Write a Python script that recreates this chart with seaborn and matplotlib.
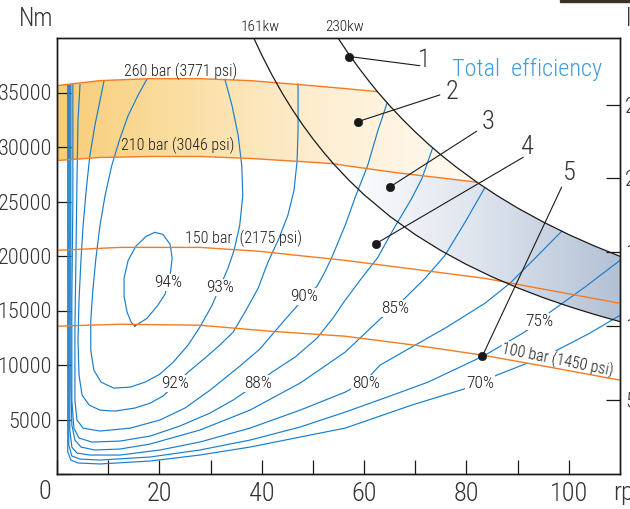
import numpy as np
import seaborn as sns
import matplotlib.pyplot as plt
from matplotlib.colors import LinearSegmentedColormap
from matplotlib.patches import Polygon, Rectangle

sns.set_theme(style='white')
plt.rcParams['font.family'] = ['Roboto Condensed', 'Archivo Narrow', 'PT Sans Narrow',
                               'Liberation Sans Narrow', 'DejaVu Sans']
plt.rcParams['font.weight'] = 'light'

INK = '#1a1a1a'
ORANGE = '#f47b20'
BLUE = '#197dcd'

# pressure lines, torque (Nm) against speed (rpm)
bar260_rpm = [0, 8.4, 18.2, 27.9, 37.7, 47.5, 56.3, 62.6]
bar260_nm = [35630, 36090, 36270, 36270, 36090, 35720, 35360, 35080]
bar210_rpm = [0, 8.4, 18.2, 27.9, 37.7, 47.5, 54.0, 56.3, 66.0, 82.0]
bar210_nm = [28760, 29040, 29130, 29130, 28950, 28670, 28470, 28300, 27660, 26780]
bar150_rpm = [0, 12.3, 27.9, 39.6, 46.9, 56.3, 69.9, 83.6, 96.3, 110.0]
bar150_nm = [20520, 20790, 20790, 20430, 20060, 19600, 18780, 17950, 16850, 15660]
bar100_rpm = [0, 12.3, 27.9, 41.6, 56.3, 69.9, 83.2, 96.3, 110.0]
bar100_nm = [13560, 13740, 13650, 13100, 12640, 11820, 10900, 9800, 8610]

# constant power curves
kw161_rpm = [38.44, 40, 42, 44, 46, 48, 50, 52, 54, 57, 60, 65, 70, 75, 80, 85, 90, 95, 100, 105, 110]
kw161_nm = [40000, 38440, 36610, 34940, 33420, 32030, 30750, 29570, 28470, 26970, 25620,
            23650, 21960, 20500, 19220, 18090, 17080, 16180, 15370, 14640, 13980]
kw230_rpm = [54.9, 57, 59, 61, 62.6, 65, 67.5, 70, 72.5, 75, 78, 82, 86, 90, 95, 100, 105, 110]
kw230_nm = [40000, 38530, 37230, 36010, 35080, 33790, 32540, 31380, 30290, 29280, 28160,
            26780, 25540, 24400, 23120, 21960, 20920, 19970]

# total efficiency contours
eff94_rpm = [15.2, 17.6, 19.7, 21.1, 22.1, 22.5, 22.1, 20.7, 19.1, 17.4, 15.4, 13.9, 13.1, 13.1, 13.7, 14.5, 15.2]
eff94_nm = [13560, 14290, 15480, 16490, 18230, 19790, 21070, 21980, 22170, 21800, 20890, 19600,
            17950, 16300, 14840, 13920, 13560]
eff93_rpm = [17.6, 15.8, 13.9, 12.3, 10.7, 9.4, 8.4, 7.6, 7.0, 6.6, 6.6, 7.2, 8.6, 11.1, 14.3, 17.2,
             20.1, 22.7, 25.6, 27.9, 30.3, 31.8, 33.4, 34.6, 35.7, 36.3, 36.1, 35.4, 34.2, 32.8]
eff93_nm = [36250, 34720, 32880, 30780, 28300, 25560, 22810, 19790, 16850, 14110, 11360, 9530, 8430,
            7880, 7970, 8430, 9160, 10260, 11820, 13470, 15480, 17130, 18870, 20520, 22810, 25560,
            28300, 31050, 33800, 36220]
eff92_rpm = [9.2, 8.4, 7.4, 6.4, 5.7, 5.1, 4.7, 4.3, 4.1, 4.3, 4.9, 6.3, 8.4, 11.3, 15.2, 18.2, 20.7,
             23.0, 25.6, 28.9, 31.8, 34.4, 36.7, 39.3, 41.2, 43.2, 45.1, 46.3, 46.9, 47.1, 47.1, 47.1]
eff92_nm = [36090, 34260, 31970, 29130, 26010, 22810, 19790, 15940, 12270, 9070, 7240, 6320, 5860,
            5770, 6050, 6500, 7150, 8150, 9340, 10630, 11820, 13010, 14840, 17040, 19420, 21430,
            23720, 26010, 28670, 31510, 34260, 35800]
eff90_rpm = [4.5, 4.1, 3.9, 3.7, 3.5, 3.5, 3.9, 5.1, 8.4, 14.3, 20.1, 25.0, 29.9, 35.7, 39.6, 44.1,
             48.4, 50.8, 52.3, 53.7, 56.3, 58.4, 60.7, 62.7, 64.5]
eff90_nm = [35750, 32430, 26930, 19880, 13190, 6780, 4950, 4210, 3940, 4210, 4950, 6050, 7690, 9890,
            11450, 13920, 16210, 17220, 18500, 19880, 22810, 25560, 28300, 31510, 34050]
eff88_rpm = [3.1, 3.1, 2.9, 2.9, 3.3, 4.3, 6.8, 12.3, 18.2, 24.0, 29.9, 34.4, 39.3, 42.0, 46.5, 50.8,
             53.9, 56.3, 59.2, 62.7, 65.6, 69.3, 71.3, 73.4]
eff88_nm = [35720, 25100, 15940, 6780, 4210, 3300, 2930, 3020, 3480, 4400, 5590, 6780, 8340, 9340,
            10720, 12460, 14290, 15940, 17770, 19880, 22350, 25280, 27110, 29920]
eff85_rpm = [2.7, 2.7, 2.7, 2.9, 3.5, 4.7, 7.4, 12.3, 18.2, 27.9, 37.7, 47.5, 56.3, 63.5, 66.0, 71.9,
             75.8, 79.7, 83.6]
eff85_nm = [35720, 20520, 8610, 4490, 3110, 2470, 2200, 2290, 2750, 4030, 5860, 8340, 11180, 14380,
            15210, 17950, 20060, 23080, 26270]
eff80_rpm = [2.5, 2.5, 2.5, 2.9, 3.9, 6.4, 12.3, 20.1, 27.9, 37.7, 47.5, 56.3, 60.2, 63.1, 68.9,
             75.8, 83.6, 88.5, 93.4, 98.6]
eff80_nm = [35720, 11360, 4030, 2470, 1920, 1740, 1740, 2200, 2930, 4210, 5860, 7510, 8520, 9980,
            11540, 13370, 15660, 17500, 19790, 22270]
eff75_rpm = [2.3, 2.3, 2.3, 2.9, 4.5, 8.4, 18.2, 27.9, 37.7, 47.5, 56.3, 65.0, 72.5, 78.7, 83.6,
             91.0, 94.3, 96.3, 103.1, 110.0]
eff75_nm = [35720, 6780, 2660, 1650, 1370, 1280, 1560, 2200, 3110, 4310, 5680, 7140, 8430, 9800,
            10900, 12920, 13920, 14840, 17130, 19600]
eff70_rpm = [2.1, 2.1, 2.1, 2.7, 4.1, 8.4, 18.2, 27.9, 37.7, 47.5, 56.3, 69.3, 80.1, 83.0, 85.9,
             92.4, 97.7, 104.1, 110.0]
eff70_nm = [35720, 4950, 2020, 1280, 1010, 920, 1190, 1740, 2470, 3390, 4210, 6320, 7880, 8340,
            9070, 10260, 11360, 12920, 14560]

eff_labels = ['94%', '93%', '92%', '90%', '88%', '85%', '80%', '75%', '70%']
eff_label_rpm = [21.7, 31.8, 23.0, 48.3, 39.2, 66.1, 60.3, 94.2, 82.7]
eff_label_nm = [17590, 17130, 8340, 16260, 8290, 15160, 8290, 13970, 8290]

# numbered callouts: dot, end of leader, number
call_no = ['1', '2', '3', '4', '5']
call_dot_rpm = [57.1, 58.8, 65.0, 62.3, 83.1]
call_dot_nm = [38300, 32330, 26320, 21130, 10810]
call_end_rpm = [70.9, 74.8, 82.0, 91.1, 98.6]
call_end_nm = [37460, 34780, 31450, 29060, 26320]
call_txt_rpm = [71.8, 77.1, 84.2, 91.9, 100.1]
call_txt_nm = [38010, 35080, 32270, 30040, 27570]

fig = plt.figure(figsize=(6.3, 5.09), dpi=100)
ax = fig.add_axes([57 / 630, 35 / 509, 563 / 630, 436 / 509])


def gradient_band(rpm, nm, colors):
    poly = Polygon(np.column_stack([rpm, nm]), closed=True, facecolor='none', edgecolor='none')
    ax.add_patch(poly)
    cmap = LinearSegmentedColormap.from_list('band', colors)
    im = ax.imshow(np.linspace(0, 1, 256)[None, :], extent=[min(rpm), max(rpm), min(nm), max(nm)],
                   aspect='auto', cmap=cmap, origin='lower', zorder=0.5, interpolation='bilinear')
    im.set_clip_path(poly)


# orange band: between 260 and 210 bar, left of the 230 kW curve
orange_rpm = bar260_rpm + kw230_rpm[5:12] + bar210_rpm[::-1][1:]
orange_nm = bar260_nm + kw230_nm[5:12] + bar210_nm[::-1][1:]
gradient_band(orange_rpm, orange_nm, ['#f8cd78', '#fbe0a8', '#fef0d6', '#fffaf2'])

# blue band: between 161 and 230 kW, below 210 bar
blue_rpm = kw161_rpm[8:] + kw230_rpm[::-1][:7] + bar210_rpm[::-1][1:4]
blue_nm = kw161_nm[8:] + kw230_nm[::-1][:7] + bar210_nm[::-1][1:4]
gradient_band(blue_rpm, blue_nm, ['#ffffff', '#dfe5ee', '#b3c1d5'])

contours = [(eff94_rpm, eff94_nm), (eff93_rpm, eff93_nm), (eff92_rpm, eff92_nm), (eff90_rpm, eff90_nm),
            (eff88_rpm, eff88_nm), (eff85_rpm, eff85_nm), (eff80_rpm, eff80_nm), (eff75_rpm, eff75_nm),
            (eff70_rpm, eff70_nm)]
for rpm, nm in contours:
    sns.lineplot(x=rpm, y=nm, sort=False, estimator=None, color=BLUE, linewidth=0.85, ax=ax, zorder=2)

for rpm, nm in [(bar260_rpm, bar260_nm), (bar210_rpm, bar210_nm), (bar150_rpm, bar150_nm),
                (bar100_rpm, bar100_nm)]:
    sns.lineplot(x=rpm, y=nm, sort=False, estimator=None, color=ORANGE, linewidth=1.0, ax=ax, zorder=5)

for rpm, nm in [(kw161_rpm, kw161_nm), (kw230_rpm, kw230_nm)]:
    sns.lineplot(x=rpm, y=nm, sort=False, estimator=None, color=INK, linewidth=0.9, ax=ax, zorder=5)

for lbl, x, y in zip(eff_labels, eff_label_rpm, eff_label_nm):
    ax.text(x, y, lbl, ha='center', va='center', fontsize=12.5, color=INK, zorder=4,
            bbox=dict(facecolor='white', edgecolor='none', pad=0.8))

ax.text(24.2, 36460, '260 bar (3771 psi)', ha='center', va='baseline', fontsize=11.5, color=INK, zorder=6)
ax.text(23.5, 29680, '210 bar (3046 psi)', ha='center', va='baseline', fontsize=11.5, color=INK, zorder=6)
ax.text(36.5, 21190, '150 bar  (2175 psi)', ha='center', va='baseline', fontsize=11.5, color=INK, zorder=6)
ax.text(97.7, 10440, '100 bar (1450 psi)', ha='center', va='center', fontsize=11.5, color=INK,
        rotation=-11.5, rotation_mode='anchor', zorder=4,
        bbox=dict(facecolor='white', edgecolor='none', pad=0.2))

for i in range(len(call_no)):
    sns.lineplot(x=[call_dot_rpm[i], call_end_rpm[i]], y=[call_dot_nm[i], call_end_nm[i]],
                 sort=False, estimator=None, color=INK, linewidth=0.8, ax=ax, zorder=6)
    ax.text(call_txt_rpm[i], call_txt_nm[i], call_no[i], ha='center', va='center',
            fontsize=19, color='#333333', zorder=6)
sns.scatterplot(x=call_dot_rpm, y=call_dot_nm, color=INK, s=36, edgecolor=INK, ax=ax, zorder=7)

ax.text(91.9, 36550, 'Total  efficiency', ha='center', va='baseline', fontsize=17.5, color='#3f9be0', zorder=6)
ax.text(39.8, 40990, '161kw', ha='center', va='center', fontsize=11, color=INK, clip_on=False)
ax.text(56.1, 40970, '230kw', ha='center', va='center', fontsize=11, color=INK, clip_on=False)
ax.text(-2.34, -1650, '0', ha='center', va='center', fontsize=19, color='#333333', clip_on=False)

ax.set_xlim(0, 110)
ax.set_ylim(0, 40000)
ax.set_xlabel('')
ax.set_ylabel('')
ax.set_xticks(range(0, 110, 10))
ax.set_xticklabels(['' if v % 20 or v == 0 else str(v) for v in range(0, 110, 10)])
ax.set_yticks(range(0, 40000, 5000))
ax.set_yticklabels([''] + [str(v) for v in range(5000, 40000, 5000)])
ax.tick_params(axis='x', bottom=True, direction='in', length=10, width=0.9, pad=5.5,
               labelsize=19, labelcolor='#333333', color=INK)
ax.tick_params(axis='y', left=True, direction='in', length=10, width=0.9, pad=3.6,
               labelsize=16, labelcolor='#333333', color=INK)

ax2 = ax.twinx()
ax2.set_ylim(0, 29.5)
ax2.set_yticks([5, 10, 15, 20, 25])
ax2.tick_params(axis='y', right=True, direction='in', length=10, width=0.9, pad=3.6,
                labelsize=16, labelcolor='#333333', color=INK)
for a in (ax, ax2):
    for s in a.spines.values():
        s.set_color(INK)
        s.set_linewidth(1.0)

fig.text(36 / 630, 1 - 19 / 509, 'Nm', ha='center', va='center', fontsize=18, color='#333333')
fig.text(613 / 630, 1 - 493 / 509, 'rpm', ha='left', va='center', fontsize=19, color='#333333')
fig.text(626 / 630, 1 - 19 / 509, 'l/min', ha='left', va='center', fontsize=18, color='#333333')
fig.add_artist(Rectangle((560 / 630, 507 / 509), 70 / 630, 2 / 509, transform=fig.transFigure,
                         color='#3b3328'))

fig.savefig('out.png', dpi=100, facecolor='white')
